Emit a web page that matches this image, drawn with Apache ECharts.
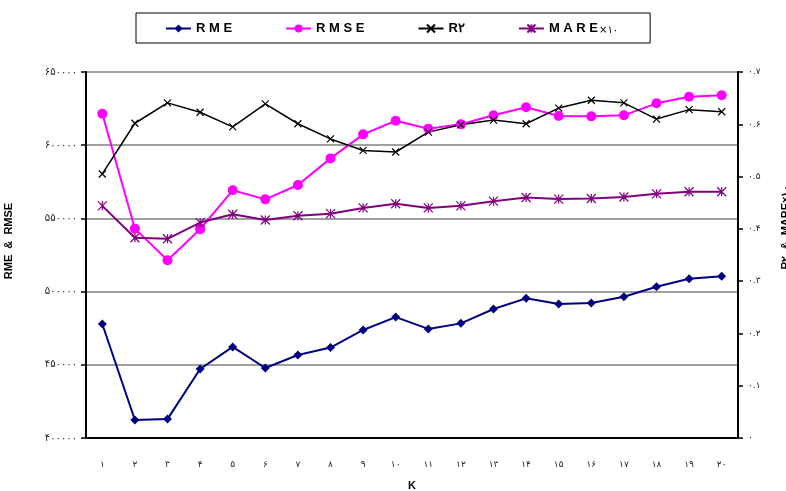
<!DOCTYPE html>
<html>
<head>
<meta charset="utf-8">
<script src="https://cdn.jsdelivr.net/npm/echarts@6/dist/echarts.min.js"></script>
<style>
  html, body { margin: 0; padding: 0; background: #fff; }
  #chart { width: 786px; height: 491px; }
</style>
</head>
<body>
<div id="chart"></div>
<script>
// K values on the category axis
const kValues = [1, 2, 3, 4, 5, 6, 7, 8, 9, 10, 11, 12, 13, 14, 15, 16, 17, 18, 19, 20];

// Left axis series
const rme = [477900, 412300, 412900, 447100, 462200, 447800, 456700, 461800, 473800, 482600,
             474500, 478300, 488100, 495400, 491500, 492200, 496500, 503300, 508800, 510500];
const rmse = [621500, 543000, 521400, 542600, 569200, 563000, 572800, 591000, 607400, 616700,
              611300, 614300, 620400, 625900, 619900, 619700, 620400, 628600, 633100, 634100];

// Right axis series
const r2 = [0.505, 0.602, 0.641, 0.623, 0.595, 0.639, 0.601, 0.572, 0.550, 0.547,
            0.585, 0.599, 0.608, 0.601, 0.631, 0.646, 0.641, 0.610, 0.628, 0.624];
const mare10 = [0.444, 0.383, 0.381, 0.412, 0.428, 0.417, 0.425, 0.429, 0.440, 0.448,
                0.440, 0.444, 0.453, 0.460, 0.457, 0.458, 0.461, 0.467, 0.471, 0.471];

// Axis ranges
const leftAxis = { min: 400000, max: 650000, step: 50000 };
const rightAxis = { min: 0, max: 0.7, step: 0.1 };

const faDigits = '۰۱۲۳۴۵۶۷۸۹';
function toFa(s) {
  return String(s).replace(/[0-9]/g, d => faDigits[+d]);
}

const chart = echarts.init(document.getElementById('chart'), null, { renderer: 'canvas' });

const tickFont = { fontFamily: 'DejaVu Sans', fontSize: 9, color: '#222' };
const crossTick = { show: true, inside: false, length: 5, lineStyle: { color: '#000', width: 1.5 } };

const option = {
  animation: false,
  backgroundColor: '#fff',
  legend: {
    left: 136,
    top: 13,
    padding: [9, 32, 8, 29],
    borderColor: '#000',
    borderWidth: 1,
    itemGap: 53,
    itemWidth: 25,
    itemHeight: 10,
    textStyle: {
      fontFamily: 'Arial, Liberation Sans',
      fontWeight: 'bold',
      fontSize: 13,
      color: '#000',
      rich: {
        small: { fontSize: 10, fontWeight: 'normal', fontFamily: 'DejaVu Sans', color: '#000', padding: [3, 0, 0, 1] }
      }
    },
    formatter: function (name) {
      if (name === 'MARE×۱۰') return 'M A R E{small|×۱۰}';
      if (name === 'RME') return 'R M E';
      if (name === 'RMSE') return 'R M S E';
      return name;
    },
    data: ['RME', 'RMSE', 'R۲', 'MARE×۱۰']
  },
  grid: { left: 86, right: 48, top: 72, bottom: 53, outerBoundsMode: 'none' },
  xAxis: {
    type: 'category',
    data: kValues,
    boundaryGap: true,
    name: 'K',
    nameLocation: 'middle',
    nameGap: 42,
    nameTextStyle: { fontFamily: 'Arial, Liberation Sans', fontWeight: 'bold', fontSize: 11, color: '#000' },
    axisLine: { lineStyle: { color: '#000', width: 2 } },
    axisTick: { show: false },
    axisLabel: Object.assign({ margin: 22, formatter: v => toFa(v) }, tickFont)
  },
  yAxis: [
    {
      type: 'value',
      position: 'left',
      min: leftAxis.min,
      max: leftAxis.max,
      interval: leftAxis.step,
      name: 'RME  &  RMSE',
      nameLocation: 'middle',
      nameGap: 72,
      nameRotate: 90,
      nameTextStyle: { fontFamily: 'Arial, Liberation Sans', fontWeight: 'bold', fontSize: 11, color: '#000', padding: [0, 0, 0, 28] },
      axisLine: { show: true, lineStyle: { color: '#000', width: 2 } },
      axisTick: crossTick,
      axisLabel: Object.assign({}, tickFont, { fontSize: 10, margin: 9, formatter: v => toFa(v) }),
      splitLine: { show: true, lineStyle: { color: '#808080', width: 1.5 } }
    },
    {
      type: 'value',
      position: 'right',
      min: rightAxis.min,
      max: rightAxis.max,
      interval: rightAxis.step,
      name: 'R۲  &  MARE×۱۰',
      nameLocation: 'middle',
      nameGap: 42,
      nameRotate: 90,
      nameTextStyle: { fontFamily: 'Arial, Liberation Sans', fontWeight: 'bold', fontSize: 11, color: '#000', padding: [0, 0, 0, 56] },
      axisLine: { show: true, lineStyle: { color: '#000', width: 2 } },
      axisTick: crossTick,
      axisLabel: Object.assign({ margin: 10, formatter: v => toFa(+v.toFixed(1)) }, tickFont),
      splitLine: { show: false }
    }
  ],
  series: [
    {
      name: 'RME',
      type: 'line',
      yAxisIndex: 0,
      data: rme,
      symbol: 'diamond',
      symbolSize: 9,
      lineStyle: { color: '#000080', width: 2 },
      itemStyle: { color: '#000080' }
    },
    {
      name: 'RMSE',
      type: 'line',
      yAxisIndex: 0,
      data: rmse,
      symbol: 'circle',
      symbolSize: 10,
      lineStyle: { color: '#ff00ff', width: 2 },
      itemStyle: { color: '#ff00ff' }
    },
    {
      name: 'R۲',
      type: 'line',
      yAxisIndex: 1,
      data: r2,
      symbol: 'path://M0,0L10,10M10,0L0,10',
      symbolSize: 7,
      lineStyle: { color: '#000', width: 1.5 },
      itemStyle: { color: '#000', borderColor: '#000', borderWidth: 1.2 }
    },
    {
      name: 'MARE×۱۰',
      type: 'line',
      yAxisIndex: 1,
      data: mare10,
      symbol: 'path://M0,0L10,10M10,0L0,10M5,0L5,10',
      symbolSize: 9,
      lineStyle: { color: '#800080', width: 2 },
      itemStyle: { color: '#800080', borderColor: '#800080', borderWidth: 1.2 }
    }
  ]
};

chart.setOption(option);
</script>
</body>
</html>
